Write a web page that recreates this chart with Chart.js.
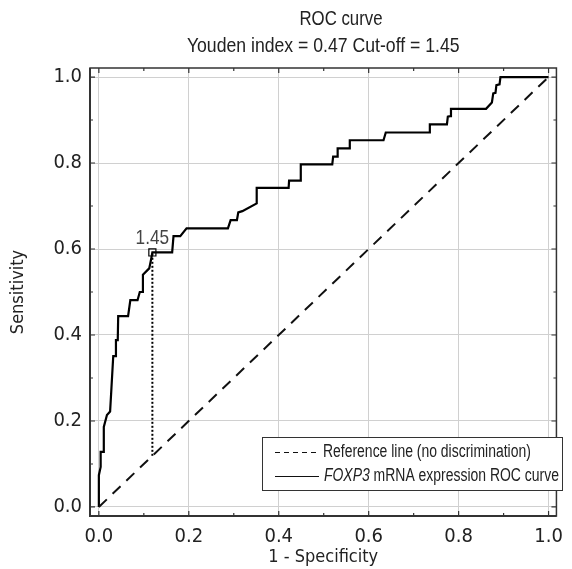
<!DOCTYPE html>
<html>
<head>
<meta charset="utf-8">
<script src="https://cdn.jsdelivr.net/npm/chart.js@4.4.1/dist/chart.umd.min.js"></script>
<style>
    html, body { margin: 0; padding: 0; background: #fff; }
    #wrap { width: 572px; height: 569px; }
</style>
</head>
<body>
<div id="wrap"><canvas id="rocChart" width="572" height="569"></canvas></div>
<script>
    // ROC curve (1 - specificity, sensitivity)
    const rocFpr = [0, 0, 0.004, 0.004, 0.011, 0.011, 0.018, 0.025, 0.028, 0.032, 0.037, 0.038, 0.042, 0.043,
        0.065, 0.070, 0.086, 0.091, 0.098, 0.098, 0.112, 0.115, 0.118, 0.119, 0.163, 0.166, 0.181, 0.195,
        0.287, 0.293, 0.307, 0.310, 0.319, 0.351, 0.351, 0.422, 0.423, 0.449, 0.449, 0.519, 0.521, 0.530,
        0.531, 0.558, 0.558, 0.633, 0.638, 0.736, 0.736, 0.774, 0.776, 0.781, 0.783, 0.861, 0.874, 0.877,
        0.882, 0.884, 0.891, 0.893, 1.0];
    const rocTpr = [0, 0.074, 0.093, 0.128, 0.128, 0.186, 0.214, 0.222, 0.277, 0.351, 0.351, 0.388, 0.388, 0.444,
        0.444, 0.481, 0.481, 0.5, 0.5, 0.540, 0.555, 0.570, 0.586, 0.592, 0.592, 0.630, 0.630, 0.648,
        0.648, 0.667, 0.667, 0.685, 0.688, 0.706, 0.742, 0.742, 0.759, 0.759, 0.797, 0.797, 0.815, 0.815,
        0.834, 0.834, 0.853, 0.853, 0.871, 0.871, 0.890, 0.890, 0.908, 0.909, 0.926, 0.926, 0.941, 0.962,
        0.963, 0.981, 0.983, 1.0, 1.0];

    const referenceX = [0, 1];
    const referenceY = [0, 1];

    const cutoffX = 0.119;
    const cutoffY = 0.592;
    const cutoffLabel = '1.45';

    const majorTicks = [0, 0.2, 0.4, 0.6, 0.8, 1.0];
    const minorTicks = [0.1, 0.3, 0.5, 0.7, 0.9];

    const titleLines = ['ROC curve', 'Youden index = 0.47 Cut-off = 1.45'];
    const xTitle = '1 - Specificity';
    const yTitle = 'Sensitivity';
    const legendReference = 'Reference line (no discrimination)';
    const legendCurveItalic = 'FOXP3';
    const legendCurveRest = ' mRNA expression ROC curve';

    const FONT = "'DejaVu Sans Condensed', 'Liberation Sans', sans-serif";
    const NARROW = "'Liberation Sans', Arial, sans-serif";
    const TEXT = '#222';

    function toPoints(xs, ys) {
        return xs.map((x, i) => ({ x: x, y: ys[i] }));
    }

    function fixedTicks(scale) {
        scale.ticks = majorTicks.map(v => ({ value: v }));
    }

    // Arial squeezed sideways stands in for the condensed face; returns drawn width
    function narrowText(ctx, text, x, y, size, squeeze, align, style) {
        ctx.save();
        ctx.font = (style ? style + ' ' : '') + size + 'px ' + NARROW;
        const w = ctx.measureText(text).width * squeeze;
        let left = x;
        if (align === 'center') left = x - w / 2;
        if (align === 'right') left = x - w;
        ctx.translate(left, y);
        ctx.scale(squeeze, 1);
        ctx.textAlign = 'left';
        ctx.fillText(text, 0, 0);
        ctx.restore();
        return w;
    }

    // frame, inward ticks, titles, cut-off label and legend box
    const decorPlugin = {
        id: 'decor',
        afterDraw(chart) {
            const ctx = chart.ctx;
            const a = chart.chartArea;
            const xs = chart.scales.x;
            const ys = chart.scales.y;
            ctx.save();

            // frame
            ctx.strokeStyle = '#333';
            ctx.lineWidth = 1.5;
            ctx.strokeRect(a.left, a.top, a.right - a.left, a.bottom - a.top);
            ctx.lineWidth = 2;
            ctx.beginPath();
            ctx.moveTo(a.left, a.top);
            ctx.lineTo(a.left, a.bottom);
            ctx.lineTo(a.right, a.bottom);
            ctx.stroke();

            // inward ticks on all four sides
            ctx.lineWidth = 1.2;
            const tick = (v, len) => {
                const px = xs.getPixelForValue(v);
                const py = ys.getPixelForValue(v);
                ctx.beginPath();
                ctx.moveTo(px, a.bottom); ctx.lineTo(px, a.bottom - len);
                ctx.moveTo(px, a.top); ctx.lineTo(px, a.top + len);
                ctx.moveTo(a.left, py); ctx.lineTo(a.left + len, py);
                ctx.moveTo(a.right, py); ctx.lineTo(a.right - len, py);
                ctx.stroke();
            };
            majorTicks.forEach(v => tick(v, 5));
            minorTicks.forEach(v => tick(v, 3));

            // title
            ctx.fillStyle = TEXT;
            ctx.textBaseline = 'middle';
            narrowText(ctx, titleLines[0], 341, 19, 21, 0.8, 'center');
            narrowText(ctx, titleLines[1], (a.left + a.right) / 2, 46, 21, 0.84, 'center');

            // cut-off label
            ctx.fillStyle = '#444';
            ctx.textBaseline = 'alphabetic';
            narrowText(ctx, cutoffLabel, xs.getPixelForValue(cutoffX), ys.getPixelForValue(cutoffY) - 8, 21, 0.82, 'center');

            // legend
            const lx = 262, ly = 437, lw = 300, lh = 53;
            ctx.fillStyle = '#fff';
            ctx.fillRect(lx, ly, lw, lh);
            ctx.strokeStyle = '#333';
            ctx.lineWidth = 1;
            ctx.strokeRect(lx + 0.5, ly + 0.5, lw, lh);

            ctx.strokeStyle = '#111';
            ctx.setLineDash([5, 4]);
            ctx.beginPath();
            ctx.moveTo(275, 452.5); ctx.lineTo(319, 452.5);
            ctx.stroke();
            ctx.setLineDash([]);
            ctx.beginPath();
            ctx.moveTo(275, 476.5); ctx.lineTo(319, 476.5);
            ctx.stroke();

            ctx.fillStyle = TEXT;
            ctx.textBaseline = 'middle';
            narrowText(ctx, legendReference, 323, 452, 18, 0.775, 'left');
            const w = narrowText(ctx, legendCurveItalic, 324, 476, 18, 0.775, 'left', 'italic');
            narrowText(ctx, legendCurveRest, 324 + w, 476, 18, 0.775, 'left');

            ctx.restore();
        }
    };

    new Chart(document.getElementById('rocChart'), {
        type: 'scatter',
        data: {
            datasets: [
                {
                    label: 'Reference line',
                    data: toPoints(referenceX, referenceY),
                    showLine: true,
                    borderColor: '#111',
                    borderWidth: 2,
                    borderDash: [11, 8],
                    pointRadius: 0
                },
                {
                    label: 'ROC curve',
                    data: toPoints(rocFpr, rocTpr),
                    showLine: true,
                    borderColor: '#000',
                    borderWidth: 2.2,
                    pointRadius: 0,
                    tension: 0
                },
                {
                    label: 'Cut-off drop',
                    data: toPoints([cutoffX, cutoffX], [cutoffX, cutoffY]),
                    showLine: true,
                    borderColor: '#000',
                    borderWidth: 2,
                    borderDash: [2, 2],
                    pointRadius: 0
                },
                {
                    label: 'Cut-off',
                    data: toPoints([cutoffX], [cutoffY]),
                    pointStyle: 'rect',
                    pointRadius: 5,
                    borderColor: '#000',
                    borderWidth: 1.2,
                    backgroundColor: 'rgba(255,255,255,0)'
                }
            ]
        },
        options: {
            responsive: false,
            animation: false,
            layout: { padding: { top: 68, right: 8, left: 0, bottom: 0 } },
            plugins: {
                legend: { display: false },
                tooltip: { enabled: false },
                title: { display: false }
            },
            scales: {
                x: {
                    type: 'linear',
                    min: -0.0197,
                    max: 1.0175,
                    afterBuildTicks: fixedTicks,
                    afterFit: scale => { scale.height = 53; },
                    grid: { color: '#d0d0d0', lineWidth: 1, drawTicks: false },
                    border: { display: false },
                    ticks: {
                        padding: 9,
                        color: TEXT,
                        font: { family: FONT, size: 20 },
                        callback: v => v.toFixed(1)
                    },
                    title: {
                        display: true,
                        text: xTitle,
                        color: TEXT,
                        font: { family: FONT, size: 18 },
                        padding: { top: 0, bottom: 1 }
                    }
                },
                y: {
                    type: 'linear',
                    min: -0.021,
                    max: 1.021,
                    afterBuildTicks: fixedTicks,
                    afterFit: scale => { scale.width = 90; },
                    grid: { color: '#d0d0d0', lineWidth: 1, drawTicks: false },
                    border: { display: false },
                    ticks: {
                        padding: 8,
                        color: TEXT,
                        font: { family: FONT, size: 20 },
                        callback: v => v.toFixed(1)
                    },
                    title: {
                        display: true,
                        text: yTitle,
                        color: TEXT,
                        font: { family: FONT, size: 18 },
                        padding: { top: 8, bottom: 0 }
                    }
                }
            }
        },
        plugins: [decorPlugin]
    });
</script>
</body>
</html>
